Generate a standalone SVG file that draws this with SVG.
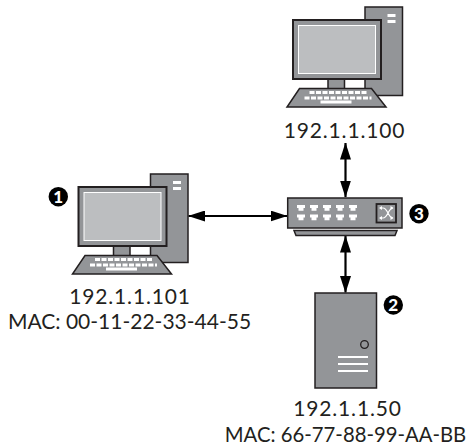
<svg xmlns="http://www.w3.org/2000/svg" width="468" height="446" viewBox="0 0 468 446">
<style>
text{font-family:"Lato","Liberation Sans",sans-serif;font-size:21px;fill:#231f20;text-anchor:middle}
.ip{letter-spacing:.85px}
.b{fill:#fff;font-size:17px;font-weight:900}
.g{fill:#939598;stroke:#231f20;stroke-width:1.5}
.w{fill:#fff;stroke:none}
.c{stroke:#000;stroke-width:2.2;fill:none;marker-start:url(#a);marker-end:url(#a)}
</style>
<defs>
<marker id="a" viewBox="0 0 17 11" refX="16.500" refY="5.500" markerUnits="userSpaceOnUse" markerWidth="17" markerHeight="11" orient="auto-start-reverse"><path d="M0 0L17 5.500L0 11z" fill="#000"/></marker>
<g id="pc">
<rect class="g" x="150.500" y="174" width="37.500" height="88.500"/>
<rect class="w" x="173" y="181" width="8" height="3"/><rect class="w" x="173" y="187" width="8" height="3"/>
<rect class="g" x="113.500" y="246" width="16.500" height="11"/>
<rect x="78.500" y="187" width="88" height="59" fill="#939598" stroke="#231f20" stroke-width="2"/>
<rect x="84" y="192.500" width="77" height="48" fill="#bcbec0" stroke="#fff" stroke-width="1"/>
<path class="g" d="M85 255.500H157L171.500 274H72.500z"/>
<path d="M95 259.500H153M90 265H157" fill="none" stroke="#fff" stroke-width="3" stroke-dasharray="5 1.500"/>
<rect class="w" x="106" y="267.500" width="31" height="3"/>
</g>
<g id="port"><path class="w" d="M0 0h8v3h-1.500v2.700h-5v-2.700h-1.500z"/></g>
</defs>
<g id="connectors">
<path class="c" d="M345.500 143V197"/>
<path class="c" d="M188.500 216H287"/>
<path class="c" d="M345.500 236V292.500"/>
</g>
<g id="pc-top"><use href="#pc" x="214.500" y="-167"/><text class="ip" x="344.500" y="138">192.1.1.100</text></g>
<g id="pc-left"><use href="#pc"/><text class="ip" x="130" y="303.500">192.1.1.101</text><text x="129.500" y="329">MAC: 00-11-22-33-44-55</text>
<circle cx="58.300" cy="196.700" r="9.700" fill="#000"/><text class="b" x="58.300" y="202.800">1</text></g>
<g id="switch">
<path class="g" d="M294 230.500H397L395 235.500H296z"/>
<rect class="g" x="287.700" y="198" width="114.300" height="30"/>
<use href="#port" x="297" y="205"/><use href="#port" x="310" y="205"/><use href="#port" x="323" y="205"/><use href="#port" x="336" y="205"/><use href="#port" x="349" y="205"/>
<use href="#port" x="297" y="214.500"/><use href="#port" x="310" y="214.500"/><use href="#port" x="323" y="214.500"/><use href="#port" x="336" y="214.500"/><use href="#port" x="349" y="214.500"/>
<rect x="376.500" y="204" width="19.500" height="18.500" fill="#939598" stroke="#231f20" stroke-width="1.800"/>
<path d="M380 208h3c5 0 5 10 10 10M380 218h3c5 0 5-10 10-10" fill="none" stroke="#fff" stroke-width="1.200"/>
<path class="w" d="M393.500 208l-3-2v4zM393.500 218l-3-2v4zM379 208l3-2v4zM379 218l3-2v4z"/>
<circle cx="419" cy="213.700" r="9.700" fill="#000"/><text class="b" x="419" y="219.800">3</text></g>
<g id="server">
<rect class="g" x="315" y="293" width="61.500" height="95"/>
<circle cx="364.500" cy="344.500" r="3.800" fill="none" stroke="#231f20" stroke-width="1.300"/>
<path d="M338 357h30M338 364h30M338 371h30" stroke="#fff" stroke-width="1.800"/>
<text class="ip" x="347.500" y="416">192.1.1.50</text><text x="345.500" y="441.500" style="font-size:20.300px">MAC: 66-77-88-99-AA-BB</text>
<circle cx="393.300" cy="305" r="9.700" fill="#000"/><text class="b" x="393.300" y="311.100">2</text></g>
</svg>
